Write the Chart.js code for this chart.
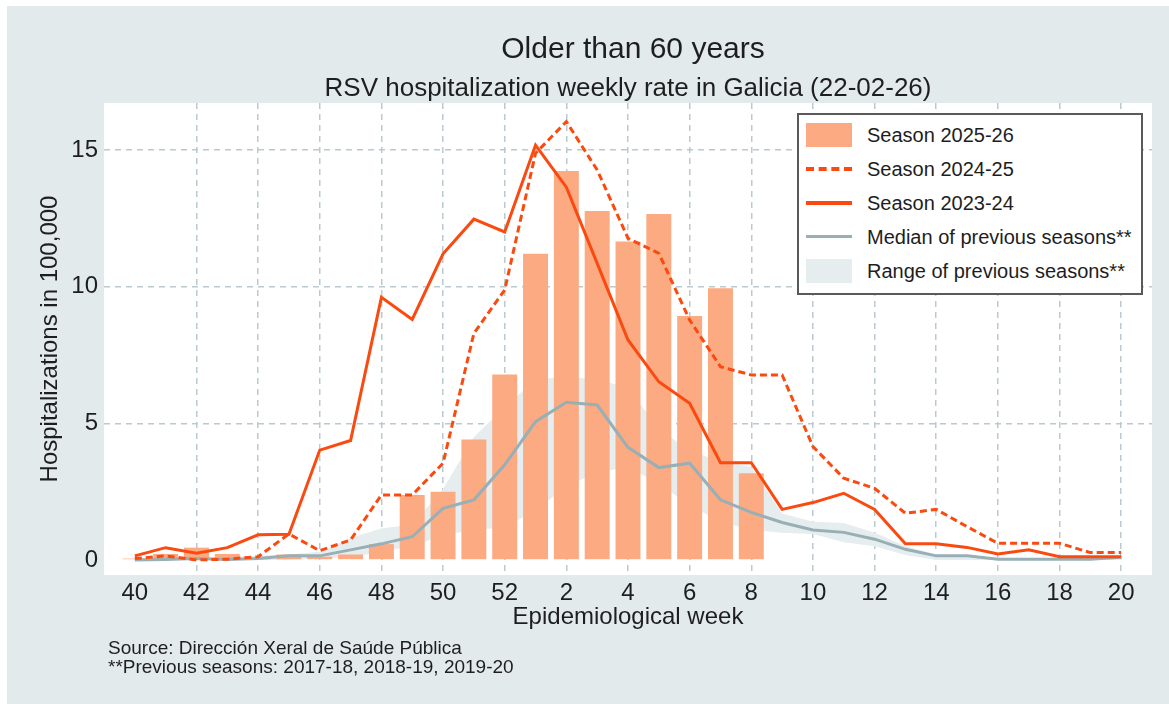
<!DOCTYPE html>
<html>
<head>
<meta charset="utf-8">
<script src="https://cdn.jsdelivr.net/npm/chart.js@4.4.1/dist/chart.umd.min.js"></script>
<style>
  body { margin: 0; background: #fff; font-family: "Liberation Sans", Arial, sans-serif; color: #1e1e1e; }
  #wrap { position: absolute; left: 7px; top: 6px; width: 1162px; height: 698px; background: #e3eaec; }
  .txt { position: absolute; white-space: nowrap; }
  #title { left: 633px; top: 33px; font-size: 30px; line-height: 30px; transform: translateX(-50%); }
  #subtitle { left: 628px; top: 74px; font-size: 26px; line-height: 26px; transform: translateX(-50%); }
  #source { left: 108px; top: 638px; font-size: 19px; line-height: 19px; }
  #legend { position: absolute; left: 797px; top: 113px; width: 346px; height: 182px; box-sizing: border-box;
            border: 2px solid #5a5a5a; background: #fff; }
  .sw { position: absolute; left: 7px; width: 46px; }
  .lt { position: absolute; left: 68px; font-size: 20px; line-height: 20px; white-space: nowrap; }
</style>
</head>
<body>
<div id="wrap"><canvas id="grafico" width="1162" height="698"></canvas></div>
<div class="txt" id="title">Older than 60 years</div>
<div class="txt" id="subtitle">RSV hospitalization weekly rate in Galicia (22-02-26)</div>
<div class="txt" id="source">Source: Dirección Xeral de Saúde Pública<br>**Previous seasons: 2017-18, 2018-19, 2019-20</div>
<div id="legend">
  <div class="sw" style="top:8px;height:24px;background:#fcaa82"></div>
  <div class="lt" style="top:10px">Season 2025-26</div>
  <div class="sw" style="top:52px;height:0;border-top:4px dashed #fa4a10"></div>
  <div class="lt" style="top:44px">Season 2024-25</div>
  <div class="sw" style="top:86px;height:4px;background:#fa4a10"></div>
  <div class="lt" style="top:78px">Season 2023-24</div>
  <div class="sw" style="top:120px;height:3px;background:#97afb5"></div>
  <div class="lt" style="top:112px">Median of previous seasons**</div>
  <div class="sw" style="top:144px;height:24px;background:#e5edef"></div>
  <div class="lt" style="top:146px">Range of previous seasons**</div>
</div>

<script>
// settimane epidemiologiche (40..52, 1..20)
const settimane = [40, 41, 42, 43, 44, 45, 46, 47, 48, 49, 50, 51, 52,
  1, 2, 3, 4, 5, 6, 7, 8, 9, 10, 11, 12, 13, 14, 15, 16, 17, 18, 19, 20];

// Stagione 2025-26 (barre, fino alla settimana 8)
const stagione2526 = [0.05, 0.22, 0.45, 0.22, 0.05, 0.2, 0.12, 0.2, 0.58, 2.38, 2.5, 4.41, 6.79,
  11.2, 14.23, 12.77, 11.65, 12.66, 8.93, 9.94, 3.17];

// Stagione 2024-25 (tratteggiata)
const stagione2425 = [0.05, 0.15, 0.0, 0.03, 0.12, 0.95, 0.34, 0.73, 2.38, 2.38, 3.54, 8.29, 9.88,
  14.88, 16.04, 14.27, 11.77, 11.22, 8.78, 7.07, 6.77, 6.77, 4.15, 2.99, 2.62, 1.71, 1.85, 1.22,
  0.61, 0.61, 0.61, 0.27, 0.27];

// Stagione 2023-24 (continua)
const stagione2324 = [0.15, 0.45, 0.25, 0.45, 0.92, 0.94, 4.02, 4.37, 9.61, 8.8, 11.2, 12.47, 12.0,
  15.18, 13.64, 10.85, 8.05, 6.52, 5.73, 3.56, 3.56, 1.85, 2.1, 2.44, 1.85, 0.59, 0.59, 0.46,
  0.22, 0.37, 0.12, 0.12, 0.12];

// Mediana e intervallo delle stagioni precedenti
const mediana = [0.0, 0.02, 0.05, 0.02, 0.05, 0.15, 0.15, 0.37, 0.59, 0.85, 1.89, 2.2, 3.48,
  5.06, 5.77, 5.67, 4.12, 3.38, 3.54, 2.2, 1.74, 1.37, 1.1, 1.01, 0.76, 0.39, 0.15, 0.15,
  0.03, 0.03, 0.03, 0.03, 0.1];
const rangeMin = [0, 0, 0, 0, 0, 0, 0.05, 0.1, 0.3, 0.5, 0.9, 1.1, 1.2,
  1.8, 2.7, 3.2, 3.4, 2.8, 2.0, 1.4, 1.1, 1.0, 0.95, 0.65, 0.5, 0.18, 0.0, 0.0,
  0, 0, 0, 0, 0];
const rangeMax = [0.05, 0.1, 0.1, 0.1, 0.15, 0.2, 0.3, 0.8, 1.15, 1.3, 2.6, 4.5, 5.6,
  6.6, 6.7, 6.6, 6.3, 4.8, 4.0, 3.6, 3.4, 1.7, 1.4, 1.35, 1.0, 0.5, 0.2, 0.15,
  0.08, 0.05, 0.05, 0.05, 0.1];

const tickY = [0, 5, 10, 15];
const tickX = [0, 2, 4, 6, 8, 10, 12, 14, 16, 18, 20, 22, 24, 26, 28, 30, 32];

const punti = (valori) => valori.map((v, i) => ({ x: i, y: v }));

const arancio = "#fa4a10";
const grigliaColore = "#b9cad1";

// sfondo bianco dell'area del grafico
const sfondoArea = {
  id: "sfondoArea",
  beforeDraw(chart) {
    const { ctx, chartArea: a } = chart;
    ctx.save();
    ctx.fillStyle = "#ffffff";
    ctx.fillRect(a.left, a.top, a.right - a.left, a.bottom - a.top);
    ctx.restore();
  }
};

const ctx = document.getElementById("grafico").getContext("2d");
new Chart(ctx, {
  type: "bar",
  data: {
    datasets: [
      {
        type: "line", label: "min", data: punti(rangeMin),
        borderWidth: 0, pointRadius: 0, fill: false, order: 6
      },
      {
        type: "line", label: "Range of previous seasons**", data: punti(rangeMax),
        borderWidth: 0, pointRadius: 0, fill: { target: 0 }, backgroundColor: "#e5edef", order: 5
      },
      {
        type: "bar", label: "Season 2025-26", data: punti(stagione2526),
        backgroundColor: "#fcaa82", barPercentage: 0.81, categoryPercentage: 1, order: 4
      },
      {
        type: "line", label: "Median of previous seasons**", data: punti(mediana),
        borderColor: "#97afb5", borderWidth: 3, pointRadius: 0, tension: 0, order: 3
      },
      {
        type: "line", label: "Season 2024-25", data: punti(stagione2425),
        borderColor: arancio, borderWidth: 3, borderDash: [7, 4], pointRadius: 0, order: 2
      },
      {
        type: "line", label: "Season 2023-24", data: punti(stagione2324),
        borderColor: arancio, borderWidth: 3, pointRadius: 0, order: 1
      }
    ]
  },
  options: {
    responsive: false,
    animation: false,
    devicePixelRatio: 1,
    layout: { padding: { top: 97, right: 17, bottom: 69, left: 0 } },
    plugins: {
      legend: { display: false },
      tooltip: { enabled: false },
      title: { display: false }
    },
    scales: {
      x: {
        type: "linear",
        min: -1,
        max: 33,
        offset: false,
        afterBuildTicks: (scala) => { scala.ticks = tickX.map((v) => ({ value: v })); },
        afterFit: (scala) => { scala.height = 60; },
        ticks: {
          callback: (v) => settimane[v],
          font: { family: "Liberation Sans", size: 24 },
          color: "#1e1e1e",
          padding: 4,
          maxRotation: 0,
          autoSkip: false
        },
        grid: {
          offset: false,
          drawTicks: false,
          lineWidth: 1.5,
          color: (c) => (c.tick && c.tick.value === 0 ? "rgba(0,0,0,0)" : grigliaColore)
        },
        border: { display: false, dash: [6, 5] },
        title: {
          display: true,
          text: "Epidemiological week",
          font: { family: "Liberation Sans", size: 24 },
          color: "#1e1e1e",
          padding: { top: 0, bottom: 3 }
        }
      },
      y: {
        min: -0.55,
        max: 16.72,
        afterBuildTicks: (scala) => { scala.ticks = tickY.map((v) => ({ value: v })); },
        afterFit: (scala) => { scala.width = 97; },
        ticks: {
          font: { family: "Liberation Sans", size: 24 },
          color: "#1e1e1e",
          padding: 6
        },
        grid: {
          drawTicks: false,
          lineWidth: 1.5,
          color: (c) => (c.tick && c.tick.value === 0 ? "rgba(0,0,0,0)" : grigliaColore)
        },
        border: { display: false, dash: [6, 5] },
        title: {
          display: true,
          text: "Hospitalizations in 100,000",
          font: { family: "Liberation Sans", size: 24 },
          color: "#1e1e1e",
          padding: { top: 29, bottom: 0 }
        }
      }
    }
  },
  plugins: [sfondoArea]
});
</script>
</body>
</html>
